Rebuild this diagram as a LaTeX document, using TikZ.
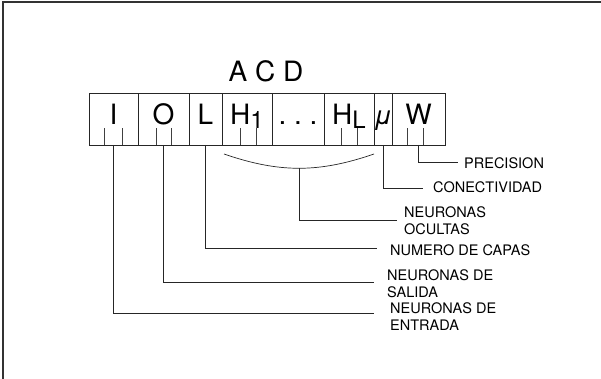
\documentclass[tikz,border=0pt]{standalone}
\usepackage{fontspec}
\setmainfont{TeX Gyre Heros}
\usepackage{tikz}
\usetikzlibrary{positioning}
\tikzset{
  cell/.style={draw=black!85, line width=0.9pt, inner sep=0pt, outer sep=0pt, minimum height=52pt, text height=32pt, text depth=20pt, align=center, font=\fontsize{28}{30}\selectfont},
  lbl/.style={anchor=west, align=left, inner sep=0pt, font=\fontsize{14.5}{17}\selectfont},
  ttl/.style={anchor=base, inner sep=0pt, font=\fontsize{28}{30}\selectfont},
  conn/.style={draw=black!85, line width=0.7pt},
  tick/.style={draw=black!75, line width=0.6pt},
  frame/.style={draw=black!80, line width=1.4pt},
}

\begin{document}
\begin{tikzpicture}[x=1pt, y=-1pt]
    \useasboundingbox (0,0) rectangle (601,379);
    \draw[frame] (3,379) -- (3,2) -- (601,2);
    \node[ttl] (acd) at (266,82) {A C D};
    \node[cell, minimum width=49pt, anchor=north west] (cI) at (89,93) {I};
    \node[cell, minimum width=51pt, right=0pt of cI] (cO) {O};
    \node[cell, minimum width=33pt, right=0pt of cO] (cL) {L};
    \node[cell, minimum width=50pt, right=0pt of cL] (cH1) {H\raisebox{-4pt}{\fontsize{24}{24}\selectfont 1}};
    \node[cell, minimum width=52pt, right=0pt of cH1] (cDots) {.\ .\ .};
    \node[cell, minimum width=50pt, right=0pt of cDots] (cHL) {H\raisebox{-4pt}{\fontsize{24}{24}\selectfont L}};
    \node[cell, minimum width=17pt, right=0pt of cHL] (cMu) {\fontsize{26}{28}\selectfont\textit{μ}};
    \node[cell, minimum width=53pt, right=0pt of cMu] (cW) {W};
    \foreach \tx in {104,122,156,171,240,256,341,357,407,423}
      \draw[tick] (\tx,145) -- (\tx,128);
    \node[lbl] (lPrec) at (464,163) {PRECISION};
    \node[lbl] (lCon) at (433,187) {CONECTIVIDAD};
    \node[lbl] (lOcu) at (404,220.5) {NEURONAS\\OCULTAS};
    \node[lbl] (lCap) at (390,250) {NUMERO DE CAPAS};
    \node[lbl] (lSal) at (387,283.5) {NEURONAS DE\\SALIDA};
    \node[lbl] (lEnt) at (390,317) {NEURONAS DE\\ENTRADA};
    \coordinate (ePrec) at (458,162);
    \coordinate (eCon) at (423,188);
    \coordinate (eOcu) at (397,220);
    \coordinate (eCap) at (377,248);
    \coordinate (eSal) at (374,282);
    \coordinate (eEnt) at (374,313);
    \coordinate (bL) at (224,154);
    \coordinate (bR) at (374,154);
    \draw[conn] (bL) to[bend right=19] node[coordinate, pos=0.5] (bM) {} (bR);
    \draw[conn] (cW.south) |- (ePrec);
    \draw[conn] (cMu.south) |- (eCon);
    \draw[conn] (bM) |- (eOcu);
    \draw[conn] (cL.south) |- (eCap);
    \draw[conn] (cO.south) |- (eSal);
    \draw[conn] (cI.south) |- (eEnt);
\end{tikzpicture}
\end{document}
